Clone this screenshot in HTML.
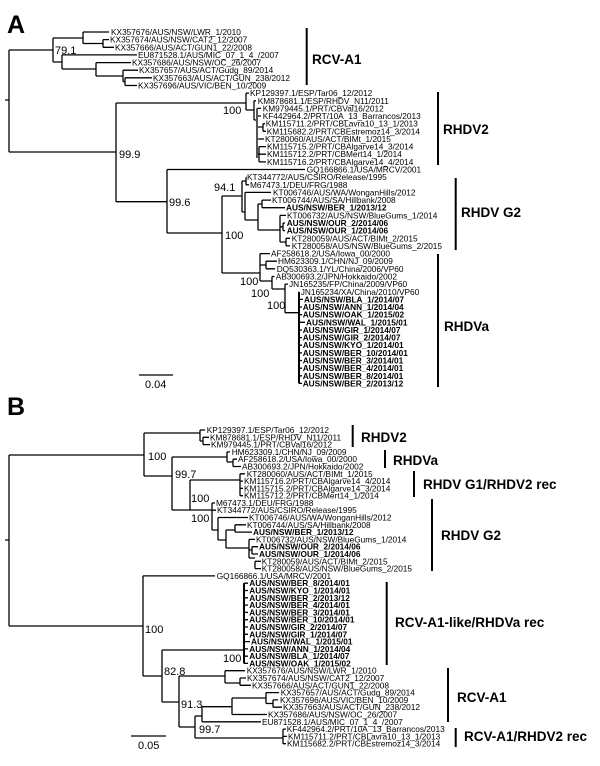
<!DOCTYPE html>
<html><head><meta charset="utf-8"><style>
html,body{margin:0;padding:0;background:#fff;}
svg{display:block;}
text{font-family:"Liberation Sans",Arial,sans-serif;fill:#000;}
.t{font-size:8.3px;}
.b{font-size:8.3px;font-weight:bold;}
.n{font-size:11px;}
.c{font-size:13.5px;font-weight:bold;}
.p{font-size:25px;font-weight:bold;}
path{fill:none;stroke:#000;stroke-width:1.3;}
</style></head><body>
<svg width="600" height="766" viewBox="0 0 600 766" xmlns="http://www.w3.org/2000/svg">
<text class="p" x="7" y="33">A</text>
<text class="p" x="7" y="415">B</text>

<!-- Panel A tree -->
<path d="M5 100H9M9 50V152M9 50H53M9 152H116
M53 38V62M53 38H83M83 32V43.5M83 32H109M83 43.5H103M103 39.6V47.3M103 39.6H109M103 47.3H114
M53 62H62M62 54.9V69M62 54.9H137M62 69H96M96 62.6V76M96 62.6H131M96 76H123M123 70.2V81.6M123 70.2H138M123 81.6H125M125 77.8V85.5M125 77.8H152M125 85.5H137
M116 103V201.7M116 103H246M246 93.1V110M246 93.1H249M246 110H254M254 100.8V120M254 100.8H256M254 120H257
M257 108.4H261M257 116H261M257 127H263M263 123.7V131.3M263 123.7H265M263 131.3H266M257 139H264M257 154H259M259 146.6V161.9M259 146.6H266M259 154.2H266M259 161.9H266
M116 201.7H167M167 169.5V233M167 169.5H305M167 233H222M222 196V273M222 196H242M242 181V212M242 181H246M246 177.2V184.8M246 177.2H246.5M246 184.8H249
M242 212H245M245 192.4V220M245 192.4H271M245 220H258M258 204V230M258 204H262M262 200.1V207.7M262 200.1H271M262 207.7H285
M258 230H280M280 215.4V242M280 215.4H286M280 226.8H283M283 223V230.6M283 223H285M283 230.6H285M280 242H286M286 238.3V245.9M286 238.3H290M286 245.9H290
M222 273H260M260 253.6V281M260 253.6H270M260 265H266M266 261.2V268.8M266 261.2H277M266 268.8H275M260 281H272M272 276.5V289M272 276.5H274.5M272 289H285M285 284.1V312.7M285 284.1H288M285 312.7H299
M299 299.4H303M299 307H302M299 314.7H302M299 322.3H305M299 330H302M299 337.6H302M299 345.2H302M299 352.9H302M299 360.5H302M299 368.2H302M299 375.8H302M299 383.4H302
M139 375H173"/>
<path d="M257 108.4V158" style="stroke:#555;stroke-width:2"/>
<path d="M299 291.8V383.4" style="stroke-width:2"/>

<!-- Panel A bars -->
<path d="M306.7 28V85M438 92V165M455.7 178V250M438 254V387" style="stroke-width:2"/>
<text class="c" x="312" y="64">RCV-A1</text>
<text class="c" x="443" y="134">RHDV2</text>
<text class="c" x="461" y="217">RHDV G2</text>
<text class="c" x="444" y="331">RHDVa</text>

<!-- Panel A node labels -->
<text class="n" x="55" y="54">79.1</text>
<text class="n" x="119" y="158">99.9</text>
<text class="n" x="223" y="114">100</text>
<text class="n" x="214" y="191">94.1</text>
<text class="n" x="169" y="206">99.6</text>
<text class="n" x="225" y="239">100</text>
<text class="n" x="240" y="285">100</text>
<text class="n" x="251" y="297">100</text>
<text class="n" x="267" y="309">100</text>
<text class="n" x="145" y="388">0.04</text>

<!-- Panel A tips -->
<text class="t" x="111" y="35">KX357676/AUS/NSW/LWR_1/2010</text>
<text class="t" x="110" y="42.6">KX357674/AUS/NSW/CAT2_12/2007</text>
<text class="t" x="115" y="50.3">KX357666/AUS/ACT/GUN1_22/2008</text>
<text class="t" x="138" y="57.9">EU871528.1/AUS/MIC_07_1_4_/2007</text>
<text class="t" x="132" y="65.6">KX357686/AUS/NSW/OC_26/2007</text>
<text class="t" x="139" y="73.2">KX357657/AUS/ACT/Gudg_89/2014</text>
<text class="t" x="153" y="80.8">KX357663/AUS/ACT/GUN_238/2012</text>
<text class="t" x="138" y="88.5">KX357696/AUS/VIC/BEN_10/2009</text>
<text class="t" x="250" y="96.1">KP129397.1/ESP/Tar06_12/2012</text>
<text class="t" x="257.7" y="103.8">KM878681.1/ESP/RHDV_N11/2011</text>
<text class="t" x="262.7" y="111.4">KM979445.1/PRT/CBVal16/2012</text>
<text class="t" x="262.7" y="119">KF442964.2/PRT/10A_13_Barrancos/2013</text>
<text class="t" x="265.7" y="126.7">KM115711.2/PRT/CBLavra10_13_1/2013</text>
<text class="t" x="266.7" y="134.3">KM115682.2/PRT/CBEstremoz14_3/2014</text>
<text class="t" x="265" y="142">KT280060/AUS/ACT/BIMt_1/2015</text>
<text class="t" x="267" y="149.6">KM115715.2/PRT/CBAlgarve14_3/2014</text>
<text class="t" x="267" y="157.2">KM115712.2/PRT/CBMert14_1/2014</text>
<text class="t" x="267" y="164.9">KM115716.2/PRT/CBAlgarve14_4/2014</text>
<text class="t" x="306.7" y="172.5">GQ166866.1/USA/MRCV/2001</text>
<text class="t" x="247" y="180.2">KT344772/AUS/CSIRO/Release/1995</text>
<text class="t" x="250" y="187.8">M67473.1/DEU/FRG/1988</text>
<text class="t" x="273" y="195.4">KT006746/AUS/WA/WonganHills/2012</text>
<text class="t" x="272" y="203.1">KT006744/AUS/SA/Hillbank/2008</text>
<text class="b" x="286" y="210.7">AUS/NSW/BER_1/2013/12</text>
<text class="t" x="287" y="218.4">KT006732/AUS/NSW/BlueGums_1/2014</text>
<text class="b" x="286.7" y="226">AUS/NSW/OUR_2/2014/06</text>
<text class="b" x="286.7" y="233.6">AUS/NSW/OUR_1/2014/06</text>
<text class="t" x="291.7" y="241.3">KT280059/AUS/ACT/BIMt_2/2015</text>
<text class="t" x="291.7" y="248.9">KT280058/AUS/NSW/BlueGums_2/2015</text>
<text class="t" x="271" y="256.6">AF258618.2/USA/Iowa_00/2000</text>
<text class="t" x="278" y="264.2">HM623309.1/CHN/NJ_09/2009</text>
<text class="t" x="276.7" y="271.8">DQ530363.1/YL/China/2006/VP60</text>
<text class="t" x="275.7" y="279.5">AB300693.2/JPN/Hokkaido/2002</text>
<text class="t" x="289" y="287.1">JN165235/FP/China/2009/VP60</text>
<text class="t" x="300.7" y="294.8">JN165234/XA/China/2010/VP60</text>
<text class="b" x="304" y="302.4">AUS/NSW/BLA_1/2014/07</text>
<text class="b" x="302.7" y="310">AUS/NSW/ANN_1/2014/04</text>
<text class="b" x="302.7" y="317.7">AUS/NSW/OAK_1/2015/02</text>
<text class="b" x="306" y="325.3">AUS/NSW/WAL_1/2015/01</text>
<text class="b" x="302.7" y="333">AUS/NSW/GIR_1/2014/07</text>
<text class="b" x="302.7" y="340.6">AUS/NSW/GIR_2/2014/07</text>
<text class="b" x="302.7" y="348.2">AUS/NSW/KYO_1/2014/01</text>
<text class="b" x="302.7" y="355.9">AUS/NSW/BER_10/2014/01</text>
<text class="b" x="302.7" y="363.5">AUS/NSW/BER_3/2014/01</text>
<text class="b" x="302.7" y="371.2">AUS/NSW/BER_4/2014/01</text>
<text class="b" x="302.7" y="378.8">AUS/NSW/BER_8/2014/01</text>
<text class="b" x="302.7" y="386.4">AUS/NSW/BER_2/2013/12</text>

<!-- Panel B tree -->
<path d="M5 540H9M9 455V626M9 455H144M9 626H143
M144 433V476M144 433H200M200 430V441M200 430H205M200 441H203M203 437.3V444.6M203 437.3H209M203 444.6H210
M144 476H172M172 457V510M172 457H227M227 451.9V462M227 451.9H230M227 462H233M233 459.2V466.5M233 459.2H237M233 466.5H241
M172 510H190M190 480V510M190 480H240M240 473.8V495.7M240 473.8H245M240 481.1H243M240 488.4H243M240 495.7H243
M190 510H212M212 503V530M212 503H215M212 510.2H216M212 530H218M218 517.5V540M218 517.5H248M218 540H226M226 530V548M226 530H235M235 524.8V532.1M235 524.8H246M235 532.1H252
M226 548H249M249 539.4V558M249 539.4H255M249 550H252M252 546.7V554M252 546.7H258M252 554H258M249 558H255M255 561.3V568.6M255 561.3H261M255 568.6H261
M143 575.9V676M143 575.9H215M143 676H162M162 650V702M162 650H244
M244 583.2H248M244 590.5H248M244 597.8H248M244 605.1H248M244 612.4H248M244 619.7H248M244 627H248M244 634.3H248M244 641.6H250M244 648.9H248M244 656.2H248M244 663.4H248
M162 702H179M179 676V727M179 676H225M225 670.7V683M225 670.7H245M225 683H240M240 678V685.3M240 678H246M240 685.3H251
M179 727H195M195 716V738M195 716H202M202 706.7V721.8M202 721.8H261M202 706.7H232M232 698V714.5M232 714.5H267M232 698H266M266 692.6V703.5M266 692.6H279M266 703.5H273M273 699.9V707.2M273 699.9H278M273 707.2H282
M195 738H283M283 729.1V743.7M283 729.1H286M283 736.4H287M283 743.7H286
M131 736H166"/>
<path d="M244 583.2V663.4" style="stroke-width:2"/>

<!-- Panel B bars -->
<path d="M352.7 425V447M385 450V468M414 471V497M432 499V571M386.7 582V665M448 668V722M455.7 728V747" style="stroke-width:2"/>
<text class="c" x="361" y="442">RHDV2</text>
<text class="c" x="393" y="465">RHDVa</text>
<text class="c" x="423" y="489">RHDV G1/RHDV2 rec</text>
<text class="c" x="441" y="540">RHDV G2</text>
<text class="c" x="395" y="627">RCV-A1-like/RHDVa rec</text>
<text class="c" x="457" y="702">RCV-A1</text>
<text class="c" x="464" y="741">RCV-A1/RHDV2 rec</text>

<!-- Panel B node labels -->
<text class="n" x="148" y="460">100</text>
<text class="n" x="175" y="478">99.7</text>
<text class="n" x="191" y="502">100</text>
<text class="n" x="191" y="522">100</text>
<text class="n" x="145" y="633">100</text>
<text class="n" x="223" y="662">100</text>
<text class="n" x="164" y="675">82.8</text>
<text class="n" x="181" y="708">91.3</text>
<text class="n" x="199" y="733">99.7</text>
<text class="n" x="138" y="749">0.05</text>

<!-- Panel B tips -->
<text class="t" x="206.7" y="433">KP129397.1/ESP/Tar06_12/2012</text>
<text class="t" x="210" y="440.3">KM878681.1/ESP/RHDV_N11/2011</text>
<text class="t" x="211" y="447.6">KM979445.1/PRT/CBVal16/2012</text>
<text class="t" x="231.7" y="454.9">HM623309.1/CHN/NJ_09/2009</text>
<text class="t" x="238" y="462.2">AF258618.2/USA/Iowa_00/2000</text>
<text class="t" x="242" y="469.5">AB300693.2/JPN/Hokkaido/2002</text>
<text class="t" x="246.7" y="476.8">KT280060/AUS/ACT/BIMt_1/2015</text>
<text class="t" x="244" y="484.1">KM115716.2/PRT/CBAlgarve14_4/2014</text>
<text class="t" x="244" y="491.4">KM115715.2/PRT/CBAlgarve14_3/2014</text>
<text class="t" x="244" y="498.7">KM115712.2/PRT/CBMert14_1/2014</text>
<text class="t" x="216" y="506">M67473.1/DEU/FRG/1988</text>
<text class="t" x="217" y="513.2">KT344772/AUS/CSIRO/Release/1995</text>
<text class="t" x="249" y="520.5">KT006746/AUS/WA/WonganHills/2012</text>
<text class="t" x="247" y="527.8">KT006744/AUS/SA/Hillbank/2008</text>
<text class="b" x="253" y="535.1">AUS/NSW/BER_1/2013/12</text>
<text class="t" x="256" y="542.4">KT006732/AUS/NSW/BlueGums_1/2014</text>
<text class="b" x="259" y="549.7">AUS/NSW/OUR_2/2014/06</text>
<text class="b" x="259" y="557">AUS/NSW/OUR_1/2014/06</text>
<text class="t" x="261.7" y="564.3">KT280059/AUS/ACT/BIMt_2/2015</text>
<text class="t" x="261.7" y="571.6">KT280058/AUS/NSW/BlueGums_2/2015</text>
<text class="t" x="216.7" y="578.9">GQ166866.1/USA/MRCV/2001</text>
<text class="b" x="249.3" y="586.2">AUS/NSW/BER_8/2014/01</text>
<text class="b" x="249.3" y="593.5">AUS/NSW/KYO_1/2014/01</text>
<text class="b" x="249.3" y="600.8">AUS/NSW/BER_2/2013/12</text>
<text class="b" x="249.3" y="608.1">AUS/NSW/BER_4/2014/01</text>
<text class="b" x="249.3" y="615.4">AUS/NSW/BER_3/2014/01</text>
<text class="b" x="249.3" y="622.7">AUS/NSW/BER_10/2014/01</text>
<text class="b" x="249.3" y="630">AUS/NSW/GIR_2/2014/07</text>
<text class="b" x="249.3" y="637.3">AUS/NSW/GIR_1/2014/07</text>
<text class="b" x="251" y="644.6">AUS/NSW/WAL_1/2015/01</text>
<text class="b" x="249.3" y="651.9">AUS/NSW/ANN_1/2014/04</text>
<text class="b" x="249.3" y="659.2">AUS/NSW/BLA_1/2014/07</text>
<text class="b" x="249.3" y="666.4">AUS/NSW/OAK_1/2015/02</text>
<text class="t" x="246.7" y="673.7">KX357676/AUS/NSW/LWR_1/2010</text>
<text class="t" x="247" y="681">KX357674/AUS/NSW/CAT2_12/2007</text>
<text class="t" x="252" y="688.3">KX357666/AUS/ACT/GUN1_22/2008</text>
<text class="t" x="280.7" y="695.6">KX357657/AUS/ACT/Gudg_89/2014</text>
<text class="t" x="280" y="702.9">KX357696/AUS/VIC/BEN_10/2009</text>
<text class="t" x="283" y="710.2">KX357663/AUS/ACT/GUN_238/2012</text>
<text class="t" x="268" y="717.5">KX357686/AUS/NSW/OC_26/2007</text>
<text class="t" x="262" y="724.8">EU871528.1/AUS/MIC_07_1_4_/2007</text>
<text class="t" x="286.7" y="732.1">KF442964.2/PRT/10A_13_Barrancos/2013</text>
<text class="t" x="288" y="739.4">KM115711.2/PRT/CBLavra10_13_1/2013</text>
<text class="t" x="287" y="746.7">KM115682.2/PRT/CBEstremoz14_3/2014</text>
</svg>
</body></html>
